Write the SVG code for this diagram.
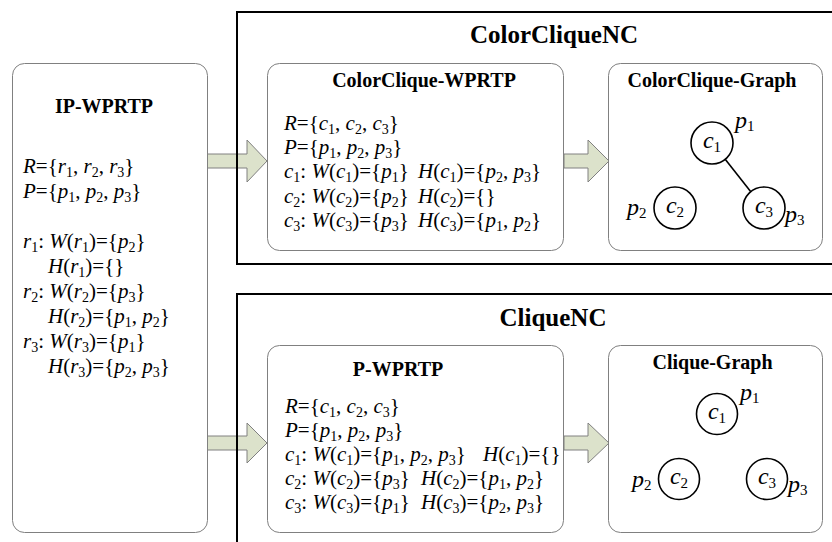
<svg xmlns="http://www.w3.org/2000/svg" width="832" height="542" viewBox="0 0 832 542">
<style>
text{font-family:"Liberation Serif","Times New Roman",serif;fill:#000}
.t{font-size:21px}
.h{font-size:20px;font-weight:bold;text-anchor:middle}
.big{font-size:25px;font-weight:bold;text-anchor:middle}
.i{font-style:italic}
.s{font-size:14px}
.g{font-size:24px}
.gs{font-size:15px}
.box{fill:#fff;stroke:#808080;stroke-width:1}
.outer{fill:none;stroke:#000;stroke-width:2}
.arrow{fill:#dce2cb;stroke:#808080;stroke-width:1}
.node{fill:#fff;stroke:#000;stroke-width:1.6}
.edge{stroke:#000;stroke-width:1.6}
</style>
<rect width="832" height="542" fill="#fff"/>

<g id="connectors">
<polygon class="arrow" points="207,154 247,154 247,140 267,161 247,182 247,168 207,168"/>
<polygon class="arrow" points="207,436 247,436 247,423 267,443 247,463 247,450 207,450"/>
<polygon class="arrow" points="564,154 588,154 588,140 609,161 588,182 588,168 564,168"/>
<polygon class="arrow" points="564,436 588,436 588,423 609,443 588,463 588,450 564,450"/>
</g>

<g id="ColorCliqueNC">
<rect class="outer" x="237" y="12" width="700" height="252"/>
<text class="big" x="554" y="43">ColorCliqueNC</text>
</g>

<g id="CliqueNC">
<rect class="outer" x="237" y="294" width="700" height="300"/>
<text class="big" x="553" y="326">CliqueNC</text>
</g>

<g id="IP-WPRTP">
<rect class="box" x="12.5" y="63.5" width="195" height="469" rx="12"/>
<text class="h" x="104" y="113">IP-WPRTP</text>
<text class="t" x="23" y="173"><tspan class="i">R</tspan>={<tspan class="i">r</tspan><tspan class="s" dy="4">1</tspan><tspan dy="-4">, </tspan><tspan class="i">r</tspan><tspan class="s" dy="4">2</tspan><tspan dy="-4">, </tspan><tspan class="i">r</tspan><tspan class="s" dy="4">3</tspan><tspan dy="-4">}</tspan></text>
<text class="t" x="23" y="198"><tspan class="i">P</tspan>={<tspan class="i">p</tspan><tspan class="s" dy="4">1</tspan><tspan dy="-4">, </tspan><tspan class="i">p</tspan><tspan class="s" dy="4">2</tspan><tspan dy="-4">, </tspan><tspan class="i">p</tspan><tspan class="s" dy="4">3</tspan><tspan dy="-4">}</tspan></text>
<text class="t" x="23" y="248"><tspan class="i">r</tspan><tspan class="s" dy="4">1</tspan><tspan dy="-4">: </tspan><tspan class="i">W</tspan>(<tspan class="i">r</tspan><tspan class="s" dy="4">1</tspan><tspan dy="-4">)={</tspan><tspan class="i">p</tspan><tspan class="s" dy="4">2</tspan><tspan dy="-4">}</tspan></text>
<text class="t" x="48" y="273"><tspan class="i">H</tspan>(<tspan class="i">r</tspan><tspan class="s" dy="4">1</tspan><tspan dy="-4">)={}</tspan></text>
<text class="t" x="23" y="298"><tspan class="i">r</tspan><tspan class="s" dy="4">2</tspan><tspan dy="-4">: </tspan><tspan class="i">W</tspan>(<tspan class="i">r</tspan><tspan class="s" dy="4">2</tspan><tspan dy="-4">)={</tspan><tspan class="i">p</tspan><tspan class="s" dy="4">3</tspan><tspan dy="-4">}</tspan></text>
<text class="t" x="48" y="323"><tspan class="i">H</tspan>(<tspan class="i">r</tspan><tspan class="s" dy="4">2</tspan><tspan dy="-4">)={</tspan><tspan class="i">p</tspan><tspan class="s" dy="4">1</tspan><tspan dy="-4">, </tspan><tspan class="i">p</tspan><tspan class="s" dy="4">2</tspan><tspan dy="-4">}</tspan></text>
<text class="t" x="23" y="348"><tspan class="i">r</tspan><tspan class="s" dy="4">3</tspan><tspan dy="-4">: </tspan><tspan class="i">W</tspan>(<tspan class="i">r</tspan><tspan class="s" dy="4">3</tspan><tspan dy="-4">)={</tspan><tspan class="i">p</tspan><tspan class="s" dy="4">1</tspan><tspan dy="-4">}</tspan></text>
<text class="t" x="48" y="373"><tspan class="i">H</tspan>(<tspan class="i">r</tspan><tspan class="s" dy="4">3</tspan><tspan dy="-4">)={</tspan><tspan class="i">p</tspan><tspan class="s" dy="4">2</tspan><tspan dy="-4">, </tspan><tspan class="i">p</tspan><tspan class="s" dy="4">3</tspan><tspan dy="-4">}</tspan></text>
</g>

<g id="ColorClique-WPRTP">
<rect class="box" x="267.5" y="63.5" width="296" height="187" rx="12"/>
<text class="h" x="424" y="87">ColorClique-WPRTP</text>
<text class="t" x="284" y="130"><tspan class="i">R</tspan>={<tspan class="i">c</tspan><tspan class="s" dy="4">1</tspan><tspan dy="-4">, </tspan><tspan class="i">c</tspan><tspan class="s" dy="4">2</tspan><tspan dy="-4">, </tspan><tspan class="i">c</tspan><tspan class="s" dy="4">3</tspan><tspan dy="-4">}</tspan></text>
<text class="t" x="284" y="154"><tspan class="i">P</tspan>={<tspan class="i">p</tspan><tspan class="s" dy="4">1</tspan><tspan dy="-4">, </tspan><tspan class="i">p</tspan><tspan class="s" dy="4">2</tspan><tspan dy="-4">, </tspan><tspan class="i">p</tspan><tspan class="s" dy="4">3</tspan><tspan dy="-4">}</tspan></text>
<text class="t" x="284" y="178"><tspan class="i">c</tspan><tspan class="s" dy="4">1</tspan><tspan dy="-4">: </tspan><tspan class="i">W</tspan>(<tspan class="i">c</tspan><tspan class="s" dy="4">1</tspan><tspan dy="-4">)={</tspan><tspan class="i">p</tspan><tspan class="s" dy="4">1</tspan><tspan dy="-4">}</tspan></text>
<text class="t" x="418" y="178"><tspan class="i">H</tspan>(<tspan class="i">c</tspan><tspan class="s" dy="4">1</tspan><tspan dy="-4">)={</tspan><tspan class="i">p</tspan><tspan class="s" dy="4">2</tspan><tspan dy="-4">, </tspan><tspan class="i">p</tspan><tspan class="s" dy="4">3</tspan><tspan dy="-4">}</tspan></text>
<text class="t" x="284" y="203"><tspan class="i">c</tspan><tspan class="s" dy="4">2</tspan><tspan dy="-4">: </tspan><tspan class="i">W</tspan>(<tspan class="i">c</tspan><tspan class="s" dy="4">2</tspan><tspan dy="-4">)={</tspan><tspan class="i">p</tspan><tspan class="s" dy="4">2</tspan><tspan dy="-4">}</tspan></text>
<text class="t" x="418" y="203"><tspan class="i">H</tspan>(<tspan class="i">c</tspan><tspan class="s" dy="4">2</tspan><tspan dy="-4">)={}</tspan></text>
<text class="t" x="284" y="227"><tspan class="i">c</tspan><tspan class="s" dy="4">3</tspan><tspan dy="-4">: </tspan><tspan class="i">W</tspan>(<tspan class="i">c</tspan><tspan class="s" dy="4">3</tspan><tspan dy="-4">)={</tspan><tspan class="i">p</tspan><tspan class="s" dy="4">3</tspan><tspan dy="-4">}</tspan></text>
<text class="t" x="418" y="227"><tspan class="i">H</tspan>(<tspan class="i">c</tspan><tspan class="s" dy="4">3</tspan><tspan dy="-4">)={</tspan><tspan class="i">p</tspan><tspan class="s" dy="4">1</tspan><tspan dy="-4">, </tspan><tspan class="i">p</tspan><tspan class="s" dy="4">2</tspan><tspan dy="-4">}</tspan></text>
</g>

<g id="P-WPRTP">
<rect class="box" x="267.5" y="345.5" width="296" height="187" rx="12"/>
<text class="h" x="398" y="376">P-WPRTP</text>
<text class="t" x="285" y="413"><tspan class="i">R</tspan>={<tspan class="i">c</tspan><tspan class="s" dy="4">1</tspan><tspan dy="-4">, </tspan><tspan class="i">c</tspan><tspan class="s" dy="4">2</tspan><tspan dy="-4">, </tspan><tspan class="i">c</tspan><tspan class="s" dy="4">3</tspan><tspan dy="-4">}</tspan></text>
<text class="t" x="285" y="437"><tspan class="i">P</tspan>={<tspan class="i">p</tspan><tspan class="s" dy="4">1</tspan><tspan dy="-4">, </tspan><tspan class="i">p</tspan><tspan class="s" dy="4">2</tspan><tspan dy="-4">, </tspan><tspan class="i">p</tspan><tspan class="s" dy="4">3</tspan><tspan dy="-4">}</tspan></text>
<text class="t" x="285" y="461"><tspan class="i">c</tspan><tspan class="s" dy="4">1</tspan><tspan dy="-4">: </tspan><tspan class="i">W</tspan>(<tspan class="i">c</tspan><tspan class="s" dy="4">1</tspan><tspan dy="-4">)={</tspan><tspan class="i">p</tspan><tspan class="s" dy="4">1</tspan><tspan dy="-4">, </tspan><tspan class="i">p</tspan><tspan class="s" dy="4">2</tspan><tspan dy="-4">, </tspan><tspan class="i">p</tspan><tspan class="s" dy="4">3</tspan><tspan dy="-4">}</tspan></text>
<text class="t" x="483" y="461"><tspan class="i">H</tspan>(<tspan class="i">c</tspan><tspan class="s" dy="4">1</tspan><tspan dy="-4">)={}</tspan></text>
<text class="t" x="285" y="485"><tspan class="i">c</tspan><tspan class="s" dy="4">2</tspan><tspan dy="-4">: </tspan><tspan class="i">W</tspan>(<tspan class="i">c</tspan><tspan class="s" dy="4">2</tspan><tspan dy="-4">)={</tspan><tspan class="i">p</tspan><tspan class="s" dy="4">3</tspan><tspan dy="-4">}</tspan></text>
<text class="t" x="421" y="485"><tspan class="i">H</tspan>(<tspan class="i">c</tspan><tspan class="s" dy="4">2</tspan><tspan dy="-4">)={</tspan><tspan class="i">p</tspan><tspan class="s" dy="4">1</tspan><tspan dy="-4">, </tspan><tspan class="i">p</tspan><tspan class="s" dy="4">2</tspan><tspan dy="-4">}</tspan></text>
<text class="t" x="285" y="509"><tspan class="i">c</tspan><tspan class="s" dy="4">3</tspan><tspan dy="-4">: </tspan><tspan class="i">W</tspan>(<tspan class="i">c</tspan><tspan class="s" dy="4">3</tspan><tspan dy="-4">)={</tspan><tspan class="i">p</tspan><tspan class="s" dy="4">1</tspan><tspan dy="-4">}</tspan></text>
<text class="t" x="421" y="509"><tspan class="i">H</tspan>(<tspan class="i">c</tspan><tspan class="s" dy="4">3</tspan><tspan dy="-4">)={</tspan><tspan class="i">p</tspan><tspan class="s" dy="4">2</tspan><tspan dy="-4">, </tspan><tspan class="i">p</tspan><tspan class="s" dy="4">3</tspan><tspan dy="-4">}</tspan></text>
</g>

<g id="ColorClique-Graph">
<rect class="box" x="608.5" y="63.5" width="214" height="187" rx="12"/>
<text class="h" x="712" y="87">ColorClique-Graph</text>
<line class="edge" x1="725" y1="159" x2="751" y2="192"/>
<g id="cc-c1"><circle class="node" cx="712" cy="143" r="21"/><text class="g" x="712" y="148" text-anchor="middle"><tspan class="i">c</tspan><tspan class="gs" dy="4">1</tspan></text></g>
<g id="cc-c2"><circle class="node" cx="675" cy="208" r="21"/><text class="g" x="675" y="213" text-anchor="middle"><tspan class="i">c</tspan><tspan class="gs" dy="4">2</tspan></text></g>
<g id="cc-c3"><circle class="node" cx="764" cy="208" r="21"/><text class="g" x="764" y="213" text-anchor="middle"><tspan class="i">c</tspan><tspan class="gs" dy="4">3</tspan></text></g>
<text class="g" x="735" y="128"><tspan class="i">p</tspan><tspan class="gs" dy="3">1</tspan></text>
<text class="g" x="627" y="215"><tspan class="i">p</tspan><tspan class="gs" dy="3">2</tspan></text>
<text class="g" x="785" y="222"><tspan class="i">p</tspan><tspan class="gs" dy="3">3</tspan></text>
</g>

<g id="Clique-Graph">
<rect class="box" x="608.5" y="345.5" width="214" height="187" rx="12"/>
<text class="h" x="712.5" y="369">Clique-Graph</text>
<g id="c-c1"><circle class="node" cx="717" cy="414" r="20.5"/><text class="g" x="717" y="419" text-anchor="middle"><tspan class="i">c</tspan><tspan class="gs" dy="4">1</tspan></text></g>
<g id="c-c2"><circle class="node" cx="679" cy="479" r="20.5"/><text class="g" x="679" y="484" text-anchor="middle"><tspan class="i">c</tspan><tspan class="gs" dy="4">2</tspan></text></g>
<g id="c-c3"><circle class="node" cx="767" cy="479" r="20.5"/><text class="g" x="767" y="484" text-anchor="middle"><tspan class="i">c</tspan><tspan class="gs" dy="4">3</tspan></text></g>
<text class="g" x="740" y="400"><tspan class="i">p</tspan><tspan class="gs" dy="3">1</tspan></text>
<text class="g" x="632" y="487"><tspan class="i">p</tspan><tspan class="gs" dy="3">2</tspan></text>
<text class="g" x="788" y="492"><tspan class="i">p</tspan><tspan class="gs" dy="3">3</tspan></text>
</g>
</svg>
